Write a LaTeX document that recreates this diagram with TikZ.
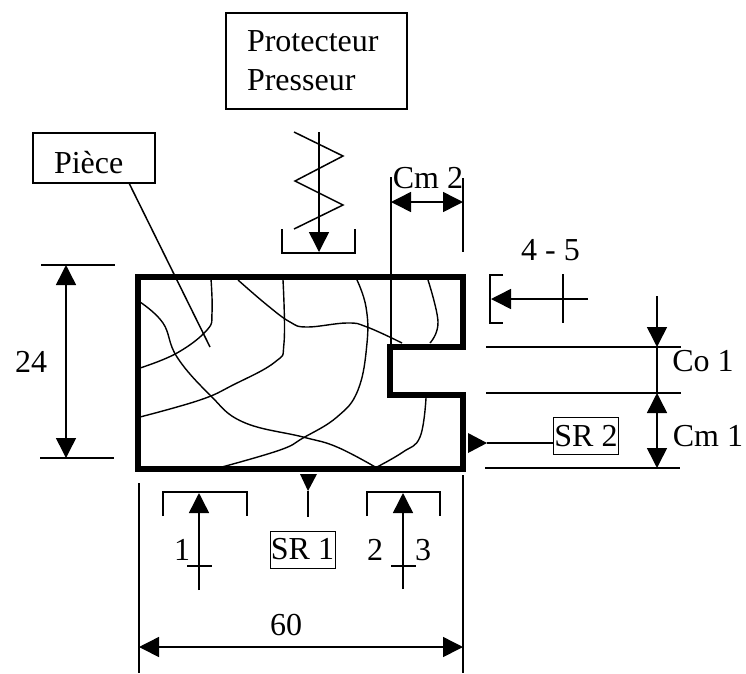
\documentclass[tikz,border=0pt]{standalone}
\usepackage{fontspec}
\setmainfont{Liberation Serif}
\usetikzlibrary{arrows.meta}
\usetikzlibrary{calc}
\tikzset{every node/.style={font=\fontsize{32}{39}\selectfont},
thin line/.style={line width=1.5pt},
grain/.style={line width=1.4pt},
dim/.style={line width=1.5pt,{Triangle[length=20pt,width=20pt]}-{Triangle[length=20pt,width=20pt]}},
push/.style={line width=1.5pt,-{Triangle[length=20pt,width=20pt]}},
srbox/.style={draw,line width=0.8pt,minimum width=65pt,minimum height=37pt,inner sep=0pt}}

\begin{document}
\begin{tikzpicture}[x=1pt,y=-1pt]
\useasboundingbox (0,0) rectangle (746,673);

% boxes
\node (prot) at (316.5,61) [draw, thin line, minimum width=181pt, minimum height=96pt, inner xsep=21pt, inner ysep=0pt, text width=139pt, align=left] {Protecteur\\Presseur};
\node (piece) at (94,158) [draw, thin line, minimum width=122pt, minimum height=50pt, inner xsep=21pt, inner ysep=0pt, text width=80pt, align=left, text height=40pt, text depth=10pt] {Pièce};
\node (sr1) at (302.5,549.5) [srbox] {SR 1};
\node (sr2) at (586,436) [srbox] {SR 2};

% part outline
\draw[line width=5.3pt] (138,277) -- (463,277) -- (463,347) -- (390,347) -- (390,395) -- (463,395) -- (463,469) -- (138,469) -- cycle;

% grain lines
\draw[grain] plot[smooth,tension=0.7] coordinates {(211,279) (212,313) (207,330) (177,353) (140,368)};
\draw[grain] plot[smooth,tension=0.7] coordinates {(140,302) (163,323) (177,357) (210,395) (243,422) (303,437) (337,447) (377,468)};
\draw[grain] plot[smooth,tension=0.7] coordinates {(238,280) (267,305) (290,322) (307,327) (347,323) (367,327) (402,343)};
\draw[grain] plot[smooth,tension=0.7] coordinates {(283,280) (284,343) (275,362) (233,385) (200,400) (140,417)};
\draw[grain] plot[smooth,tension=0.7] coordinates {(357,280) (366,307) (367,343) (358,390) (337,417) (303,438) (280,450) (222,467)};
\draw[grain] plot[smooth,tension=0.7] coordinates {(428,280) (438,322) (430,343)};
\draw[grain] plot[smooth,tension=0.7] coordinates {(426,398) (420,437) (403,452) (377,467)};

% leader of the part
\coordinate (leaderend) at (210,347);
\draw[thin line] (129,183) -- (leaderend);

% spring and clamp
\draw[thin line] (294,132) -- (343,156) -- (295,181) -- (343,205) -- (294,229);
\coordinate (clamptop) at (319,132);
\coordinate (clamptip) at (319,252);
\draw[push] (clamptop) -- (clamptip);
\draw[thin line] (282,229) -- (282,253) -- (355,253) -- (355,229);

% Cm 2
\coordinate (cmleft) at (391,202);
\coordinate (cmright) at (463,202);
\draw[thin line] (391,177) -- (391,347);
\draw[thin line] (463,178) -- (463,252);
\draw[dim] (cmleft) -- (cmright);
\node (cmtwo) at (428,188) [anchor=base, inner sep=0pt] {Cm 2};

% 4 - 5
\coordinate (sidetail) at (588,299);
\coordinate (sidetip) at (491,299);
\draw[push] (sidetail) -- (sidetip);
\draw[thin line] (503,275) -- (490,275) -- (490,323) -- (503,323);
\draw[thin line] (563,274) -- (563,323);
\node (fourfive) at (550.5,260) [anchor=base, inner sep=0pt] {4 - 5};

% Co 1, Cm 1
\coordinate (cotail) at (657,296);
\coordinate (cotop) at (657,347);
\coordinate (cobot) at (657,393);
\coordinate (cmbot) at (657,468);
\draw[thin line] (486,347) -- (681,347);
\draw[thin line] (486,393) -- (681,393);
\draw[thin line] (485,468) -- (680,468);
\draw[push] (cotail) -- (cotop);
\draw[thin line] (cotop) -- (cobot);
\draw[dim] (cobot) -- (cmbot);
\node (coone) at (703,371) [anchor=base, inner sep=0pt] {Co 1};
\node (cmone) at (708,446) [anchor=base, inner sep=0pt] {Cm 1};

% SR marks
\fill (468,433) -- (487,443) -- (468,453) -- cycle;
\coordinate (srtwofoot) at (487,443);
\draw[thin line] (srtwofoot) -- (srtwofoot -| sr2.west);
\fill (300,474) -- (317,474) -- (308,491) -- cycle;
\coordinate (sronefoot) at (308,491);
\coordinate (sronetail) at (308,517);
\draw[thin line] (sronefoot) -- (sronetail);

% 24
\coordinate (htop) at (66,265);
\coordinate (hbot) at (66,458);
\draw[thin line] (41,265) -- (115,265);
\draw[thin line] (40,458) -- (114,458);
\draw[dim] (htop) -- (hbot);
\node (height) at (31,372) [anchor=base, inner sep=0pt] {24};

% supports
\coordinate (onetail) at (199,590);
\coordinate (onetip) at (199,493);
\draw[push] (onetail) -- (onetip);
\draw[thin line] (163,516) -- (163,492) -- (247,492) -- (247,516);
\draw[thin line] (187,566) -- (212,566);
\node (one) at (182,560) [anchor=base, inner sep=0pt] {1};
\coordinate (twotail) at (403,589);
\coordinate (twotip) at (403,493);
\draw[push] (twotail) -- (twotip);
\draw[thin line] (367,516) -- (367,492) -- (440,492) -- (440,516);
\draw[thin line] (391,566) -- (416,566);
\node (two) at (375,560) [anchor=base, inner sep=0pt] {2};
\node (three) at (423,560) [anchor=base, inner sep=0pt] {3};

% 60
\coordinate (lenleft) at (139,647);
\coordinate (lenright) at (463,647);
\draw[thin line] (139,483) -- (139,673);
\draw[thin line] (463,475) -- (463,673);
\draw[dim] (lenleft) -- (lenright);
\node (length) at (286,635) [anchor=base, inner sep=0pt] {60};
\end{tikzpicture}
\end{document}
